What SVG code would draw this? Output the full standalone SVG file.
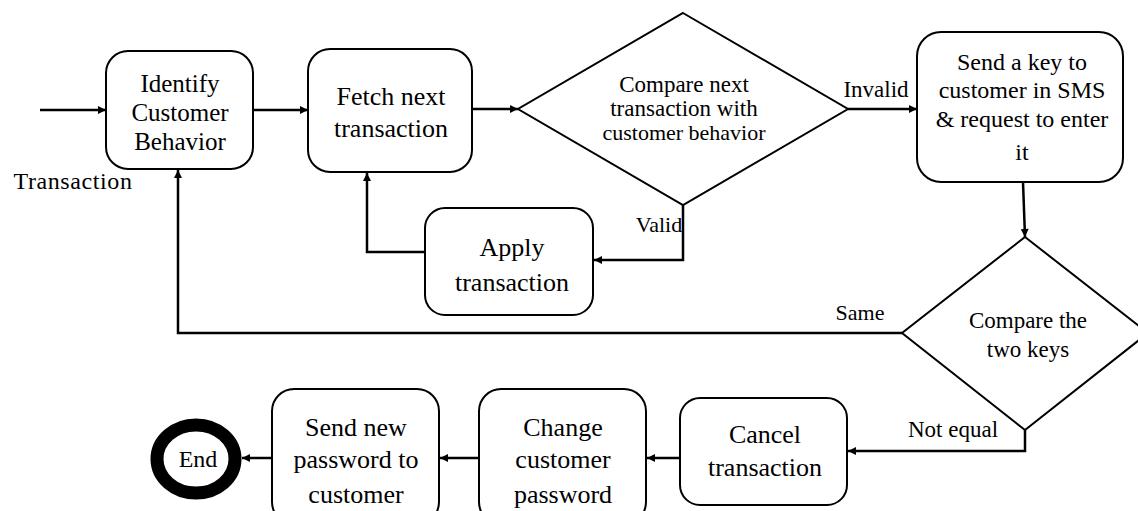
<svg xmlns="http://www.w3.org/2000/svg" width="1138" height="511" viewBox="0 0 1138 511">
<defs>
<marker id="ah" viewBox="0 0 10 10" refX="10" refY="5" markerWidth="10" markerHeight="8" markerUnits="userSpaceOnUse" orient="auto">
<path d="M0,0 L10,5 L0,10 Z" fill="#000"/>
</marker>
<style>
.box{fill:#fff;stroke:#000;stroke-width:2}
.dia{fill:#fff;stroke:#000;stroke-width:2}
.t{font-family:"Liberation Serif","Times New Roman",serif;fill:#000;text-anchor:middle}
.c{fill:none;stroke:#000;stroke-width:2.5}
.ca{fill:none;stroke:#000;stroke-width:2.5;marker-end:url(#ah)}
</style>
</defs>
<rect width="1138" height="511" fill="#fff"/>

<g id="connectors">
<line class="ca" x1="40" y1="110" x2="106" y2="110"/>
<line class="ca" x1="253" y1="110" x2="308" y2="110"/>
<line class="ca" x1="472" y1="109" x2="518" y2="109"/>
<line class="ca" x1="848" y1="109" x2="917" y2="109"/>
<polyline class="ca" points="683,205 683,260 594,260"/>
<polyline class="ca" points="424,252 367,252 367,173"/>
<line class="ca" x1="1023" y1="182" x2="1025" y2="237"/>
<polyline class="ca" points="902,333 178,333 178,170"/>
<polyline class="ca" points="1025,430 1025,451 848,451"/>
<line class="ca" x1="680" y1="458" x2="647" y2="458"/>
<line class="ca" x1="478" y1="458" x2="440" y2="458"/>
<line class="ca" x1="272" y1="458" x2="242" y2="458"/>
<text class="t" x="876" y="97" font-size="23">Invalid</text>
<text class="t" x="659" y="232" font-size="22">Valid</text>
<text class="t" x="860" y="320" font-size="22">Same</text>
<text class="t" x="953" y="437" font-size="23">Not equal</text>
<text class="t" x="73" y="189" font-size="24" letter-spacing="0.6">Transaction</text>
</g>

<g id="identify">
<rect class="box" x="106" y="51" width="147" height="118" rx="22"/>
<text class="t" x="180" y="92" font-size="25">Identify</text>
<text class="t" x="180" y="121" font-size="25">Customer</text>
<text class="t" x="180" y="150" font-size="25">Behavior</text>
</g>

<g id="fetch">
<rect class="box" x="308" y="49" width="164" height="123" rx="22"/>
<text class="t" x="391" y="105" font-size="26">Fetch next</text>
<text class="t" x="391" y="137" font-size="26">transaction</text>
</g>

<g id="compare1">
<polygon class="dia" points="683,13 848,109 683,205 518,109"/>
<text class="t" x="684" y="92" font-size="23">Compare next</text>
<text class="t" x="684" y="116" font-size="23">transaction with</text>
<text class="t" x="684" y="140" font-size="22">customer behavior</text>
</g>

<g id="sms">
<rect class="box" x="917" y="32" width="206" height="150" rx="24"/>
<text class="t" x="1022" y="70" font-size="24">Send a key to</text>
<text class="t" x="1022" y="98" font-size="24">customer in SMS</text>
<text class="t" x="1022" y="127" font-size="24">&amp; request to enter</text>
<text class="t" x="1022" y="160" font-size="24">it</text>
</g>

<g id="apply">
<rect class="box" x="425" y="208" width="168" height="107" rx="20"/>
<text class="t" x="512" y="256" font-size="26">Apply</text>
<text class="t" x="512" y="291" font-size="26">transaction</text>
</g>

<g id="compare2">
<polygon class="dia" points="1025,237 1148,333 1025,430 902,333"/>
<text class="t" x="1028" y="328" font-size="23">Compare the</text>
<text class="t" x="1028" y="357" font-size="23">two keys</text>
</g>

<g id="cancel">
<rect class="box" x="680" y="398" width="167" height="107" rx="20"/>
<text class="t" x="765" y="443" font-size="26">Cancel</text>
<text class="t" x="765" y="476" font-size="26">transaction</text>
</g>

<g id="change">
<rect class="box" x="479" y="389" width="167" height="135" rx="22"/>
<text class="t" x="563" y="436" font-size="26">Change</text>
<text class="t" x="563" y="468" font-size="26">customer</text>
<text class="t" x="563" y="503" font-size="26">password</text>
</g>

<g id="sendnew">
<rect class="box" x="272" y="389" width="167" height="135" rx="22"/>
<text class="t" x="356" y="436" font-size="26">Send new</text>
<text class="t" x="356" y="468" font-size="26">password to</text>
<text class="t" x="356" y="503" font-size="26">customer</text>
</g>

<g id="end">
<ellipse cx="196" cy="459" rx="39" ry="34" fill="#fff" stroke="#000" stroke-width="13"/>
<text class="t" x="198" y="467" font-size="24">End</text>
</g>
</svg>
